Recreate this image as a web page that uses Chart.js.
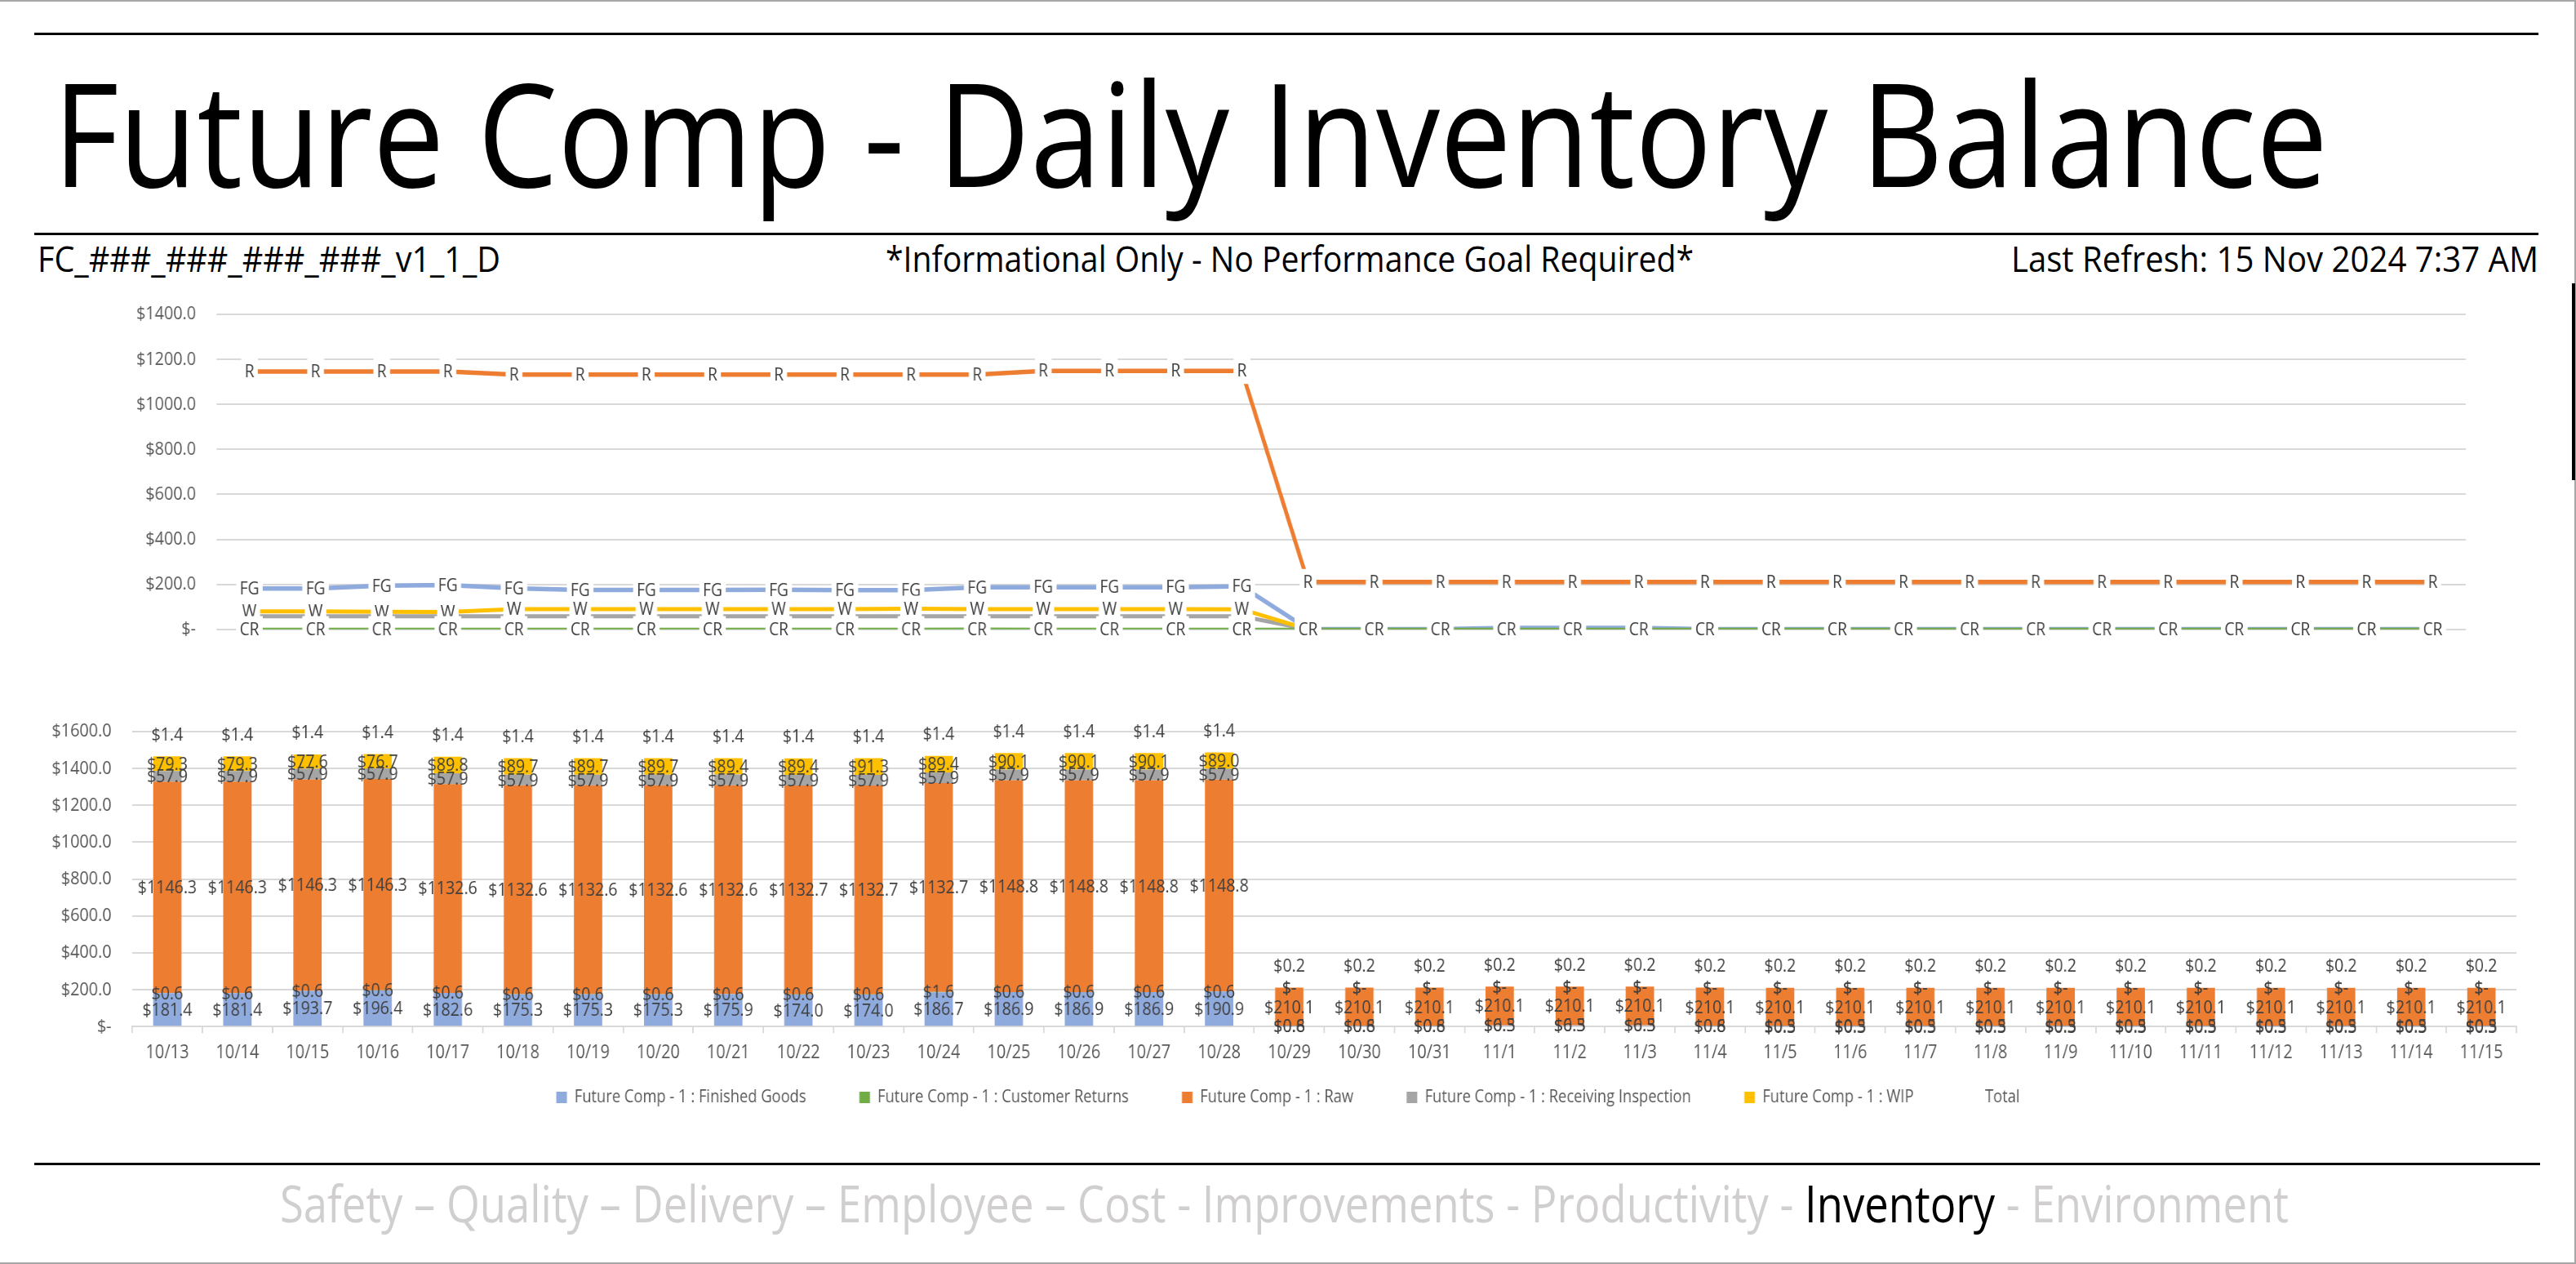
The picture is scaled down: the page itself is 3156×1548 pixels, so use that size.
<!DOCTYPE html>
<html>
<head>
<meta charset="utf-8">
<title>Future Comp - Daily Inventory Balance</title>
<script src="https://cdn.jsdelivr.net/npm/chart.js@4.4.1/dist/chart.umd.min.js"></script>
<style>
  html, body { margin: 0; padding: 0; background: #ffffff; width: 3156px; height: 1548px; overflow: hidden; }
  svg text { font-family: "Open Sans", sans-serif; white-space: pre; }
  .wrap { position: absolute; left: 0; transform-origin: 0 0; }
  canvas { display: block; }
</style>
</head>
<body>
<svg width="3156" height="1548" style="position:absolute;left:0;top:0">
  <rect x="0" y="0" width="3156" height="2" fill="#a6a6a6"/>
  <rect x="0" y="1546" width="3156" height="2" fill="#a6a6a6"/>
  <rect x="3154" y="0" width="2" height="1548" fill="#a6a6a6"/>
  <rect x="3151" y="347" width="4" height="241" fill="#000000"/>
  <rect x="42" y="40" width="3068" height="3" fill="#000000"/>
  <rect x="42" y="285" width="3068" height="3" fill="#000000"/>
  <rect x="42" y="1424" width="3070" height="3" fill="#000000"/>
  <text x="65" y="229" font-size="176" fill="#000" textLength="2787" lengthAdjust="spacingAndGlyphs">Future Comp - Daily Inventory Balance</text>
  <text x="46" y="333" font-size="44" fill="#000" textLength="567" lengthAdjust="spacingAndGlyphs">FC_###_###_###_###_v1_1_D</text>
  <text x="1085" y="333" font-size="44" fill="#000" textLength="990" lengthAdjust="spacingAndGlyphs">*Informational Only - No Performance Goal Required*</text>
  <text x="2464" y="333" font-size="44" fill="#000" textLength="646" lengthAdjust="spacingAndGlyphs">Last Refresh: 15 Nov 2024 7:37 AM</text>
  <text x="343" y="1497" font-size="62" textLength="2461" lengthAdjust="spacingAndGlyphs"><tspan fill="#d0cece">Safety – Quality – Delivery – Employee – Cost - Improvements - Productivity - </tspan><tspan fill="#000000">Inventory</tspan><tspan fill="#d0cece"> - Environment</tspan></text>
</svg>
<div class="wrap" id="topWrap"><canvas id="topChart"></canvas></div>
<div class="wrap" id="botWrap"><canvas id="botChart"></canvas></div>
<script>
// ---------------- DATA ----------------
const categories = ['10/13','10/14','10/15','10/16','10/17','10/18','10/19','10/20','10/21','10/22','10/23','10/24','10/25','10/26','10/27','10/28','10/29','10/30','10/31','11/1','11/2','11/3','11/4','11/5','11/6','11/7','11/8','11/9','11/10','11/11','11/12','11/13','11/14','11/15'];

const finishedGoods = [181.4,181.4,193.7,196.4,182.6,175.3,175.3,175.3,175.9,174.0,174.0,186.7,186.9,186.9,186.9,190.9,0.8,0.8,0.8,6.5,6.5,6.5,0.8,0.5,0.5,0.5,0.5,0.5,0.5,0.5,0.5,0.5,0.5,0.5];
const customerReturns = [0.6,0.6,0.6,0.6,0.6,0.6,0.6,0.6,0.6,0.6,0.6,1.6,0.6,0.6,0.6,0.6,0.6,0.6,0.6,0.3,0.3,0.3,0.6,0.3,0.3,0.3,0.3,0.3,0.3,0.3,0.3,0.3,0.3,0.3];
const raw = [1146.3,1146.3,1146.3,1146.3,1132.6,1132.6,1132.6,1132.6,1132.6,1132.7,1132.7,1132.7,1148.8,1148.8,1148.8,1148.8,210.1,210.1,210.1,210.1,210.1,210.1,210.1,210.1,210.1,210.1,210.1,210.1,210.1,210.1,210.1,210.1,210.1,210.1];
const receivingInspection = [57.9,57.9,57.9,57.9,57.9,57.9,57.9,57.9,57.9,57.9,57.9,57.9,57.9,57.9,57.9,57.9,0,0,0,0,0,0,0,0,0,0,0,0,0,0,0,0,0,0];
const wip = [79.3,79.3,77.6,76.7,89.8,89.7,89.7,89.7,89.4,89.4,91.3,89.4,90.1,90.1,90.1,89.0,0,0,0,0,0,0,0,0,0,0,0,0,0,0,0,0,0,0];
// Total labels as printed on the chart (in thousands of $)
const totalThousands = [1.4,1.4,1.4,1.4,1.4,1.4,1.4,1.4,1.4,1.4,1.4,1.4,1.4,1.4,1.4,1.4,0.2,0.2,0.2,0.2,0.2,0.2,0.2,0.2,0.2,0.2,0.2,0.2,0.2,0.2,0.2,0.2,0.2,0.2];

const seriesNames = ['Future Comp - 1 : Finished Goods','Future Comp - 1 : Customer Returns','Future Comp - 1 : Raw','Future Comp - 1 : Receiving Inspection','Future Comp - 1 : WIP','Total'];
const seriesCodes = ['FG','CR','R','','W'];
const seriesColors = ['#8FAADC','#70AD47','#ED7D31','#A5A5A5','#FFC000'];

const topTicks = { min: 0, max: 1400, step: 200 };
const bottomTicks = { min: 0, max: 1600, step: 200 };

// ---------------- LAYOUT ----------------
const PAGE_W = 3156;
const LOGICAL_W = 3628;
const SX = PAGE_W / LOGICAL_W;
const lx = v => v / SX;
const FONT = '"Open Sans", sans-serif';
const TEXT_DARK = '#404040';
const AXIS_TEXT = '#595959';
const GRID = '#d9d9d9';

function fmtMoney(v) { return v === 0 ? '$-' : '$' + Number(v).toFixed(1); }

function setupCanvas(wrapId, canvasId, top, height) {
  const wrap = document.getElementById(wrapId);
  wrap.style.top = top + 'px';
  wrap.style.width = LOGICAL_W + 'px';
  wrap.style.height = height + 'px';
  wrap.style.transform = 'scaleX(' + SX + ')';
  const c = document.getElementById(canvasId);
  c.width = LOGICAL_W; c.height = height;
  c.style.width = LOGICAL_W + 'px'; c.style.height = height + 'px';
  return c;
}

const topLabelPlugin = {
  id: 'topLabels',
  afterDatasetsDraw(chart) {
    const ctx = chart.ctx;
    ctx.save();
    ctx.font = '22px ' + FONT;
    ctx.textAlign = 'center';
    ctx.textBaseline = 'middle';
    const drawOrder = [2, 0, 3, 4, 1];
    drawOrder.forEach(di => {
      const ds = chart.data.datasets[di];
      if (!ds.code) return;
      const meta = chart.getDatasetMeta(di);
      const w = ctx.measureText(ds.code).width + 10;
      const h = 32;
      meta.data.forEach(pt => {
        ctx.fillStyle = '#ffffff';
        ctx.fillRect(pt.x - w / 2, pt.y - h / 2, w, h);
        ctx.fillStyle = TEXT_DARK;
        ctx.fillText(ds.code, pt.x, pt.y + 1);
      });
    });
    ctx.restore();
  }
};

const barLabelPlugin = {
  id: 'barLabels',
  afterDatasetsDraw(chart) {
    const ctx = chart.ctx;
    ctx.save();
    ctx.font = '22.5px ' + FONT;
    ctx.fillStyle = TEXT_DARK;
    ctx.textAlign = 'center';
    ctx.textBaseline = 'middle';
    chart.data.datasets.forEach((ds, di) => {
      const meta = chart.getDatasetMeta(di);
      if (ds.type === 'line') {
        meta.data.forEach((pt, i) => {
          ctx.fillText('$' + totalThousands[i].toFixed(1), pt.x, pt.y - 26);
        });
      } else {
        meta.data.forEach((bar, i) => {
          const p = bar.getProps(['x', 'y', 'base'], true);
          ctx.fillText(fmtMoney(ds.data[i]), p.x, (p.y + p.base) / 2 + 1);
        });
      }
    });
    ctx.restore();
  }
};

function buildTop() {
  const plotLeft = 265, plotRight = 3021, plotTop = 385, plotBottom = 770.7;
  const top = plotTop - 45;
  const height = Math.ceil(plotBottom + 45 - top);
  const padLeft = lx(100);
  const canvas = setupCanvas('topWrap', 'topChart', top, height);
  const seriesData = [finishedGoods, customerReturns, raw, receivingInspection, wip];
  const widths = [5.5, 3.5, 5.5, 5, 5];
  const orders = [1, 0, 4, 3, 2];
  const datasets = seriesData.map((d, i) => ({
    label: seriesNames[i],
    data: d,
    code: seriesCodes[i],
    borderColor: seriesColors[i],
    backgroundColor: seriesColors[i],
    borderWidth: widths[i],
    pointRadius: 0,
    tension: 0,
    fill: false,
    order: orders[i]
  }));
  new Chart(canvas, {
    type: 'line',
    data: { labels: categories, datasets },
    options: {
      responsive: false, animation: false, devicePixelRatio: 1,
      layout: { padding: { left: padLeft, right: LOGICAL_W - lx(plotRight), top: plotTop - top, bottom: top + height - plotBottom } },
      plugins: { legend: { display: false }, tooltip: { enabled: false } },
      scales: {
        x: { type: 'category', display: false, offset: true },
        y: {
          min: topTicks.min, max: topTicks.max,
          ticks: { stepSize: topTicks.step, padding: lx(25), color: AXIS_TEXT, font: { family: FONT, size: 22.7 }, callback: v => fmtMoney(v) },
          grid: { color: GRID, lineWidth: 2, drawTicks: false },
          border: { display: false },
          afterFit: s => { s.width = lx(plotLeft) - padLeft; }
        }
      }
    },
    plugins: [topLabelPlugin]
  });
}

function buildBottom() {
  const plotLeft = 162, plotRight = 3083, plotTop = 896, plotBottom = 1257.3;
  const legendCenterY = 1344;
  const top = plotTop - 45;
  const sidePad = lx(40);
  const legendFont = 21.1, legendPad = 75, legendBoxH = 14;
  const itemHeight = Math.max(legendFont, legendBoxH);
  const legendHeight = itemHeight + legendPad + 10;
  const xAxisHeight = 50;
  const bottomPad = 20;
  const height = Math.ceil(plotBottom - top + xAxisHeight + legendHeight + bottomPad);
  const padBottom = (top + height) - plotBottom - xAxisHeight - legendHeight;
  const canvas = setupCanvas('botWrap', 'botChart', top, height);

  const legendShiftPlugin = {
    id: 'legendShift',
    afterLayout(chart) {
      const lg = chart.legend;
      if (!lg) return;
      const newTop = (legendCenterY - top) - legendPad - itemHeight / 2;
      lg.top = newTop;
      lg.bottom = newTop + lg.height;
    }
  };

  const seriesData = [finishedGoods, customerReturns, raw, receivingInspection, wip];
  const datasets = seriesData.map((d, i) => ({
    type: 'bar',
    label: seriesNames[i],
    data: d,
    backgroundColor: seriesColors[i],
    borderColor: seriesColors[i],
    borderWidth: 0,
    stack: 'inv',
    barPercentage: 0.404,
    categoryPercentage: 1.0
  }));
  const totals = categories.map((c, i) => seriesData.reduce((s, d) => s + d[i], 0));
  datasets.push({
    type: 'line',
    label: seriesNames[5],
    data: totals,
    stack: 'total',
    showLine: false,
    pointRadius: 0,
    borderWidth: 0,
    borderColor: 'rgba(0,0,0,0)',
    backgroundColor: 'rgba(0,0,0,0)'
  });
  new Chart(canvas, {
    type: 'bar',
    data: { labels: categories, datasets },
    options: {
      responsive: false, animation: false, devicePixelRatio: 1,
      layout: { padding: { left: sidePad, right: sidePad, top: plotTop - top, bottom: padBottom } },
      plugins: {
        tooltip: { enabled: false },
        legend: {
          position: 'bottom',
          labels: { boxWidth: lx(13), boxHeight: legendBoxH, padding: legendPad, color: AXIS_TEXT, font: { family: FONT, size: legendFont } }
        }
      },
      scales: {
        x: {
          stacked: true,
          ticks: { autoSkip: false, maxRotation: 0, minRotation: 0, padding: 10, color: AXIS_TEXT, font: { family: FONT, size: 22.9 } },
          grid: { display: true, drawOnChartArea: false, drawTicks: true, tickLength: 8, color: GRID, lineWidth: 2, offset: true },
          border: { display: true, color: GRID, width: 2 },
          afterFit: s => { s.height = xAxisHeight; }
        },
        y: {
          stacked: true,
          min: bottomTicks.min, max: bottomTicks.max,
          ticks: { stepSize: bottomTicks.step, padding: lx(25.5), color: AXIS_TEXT, font: { family: FONT, size: 22.7 }, callback: v => fmtMoney(v) },
          grid: { color: GRID, lineWidth: 2, drawTicks: false },
          border: { display: false },
          afterFit: s => { s.width = lx(plotLeft) - sidePad; }
        },
        ySpacer: {
          position: 'right',
          display: true,
          ticks: { display: false },
          grid: { display: false, drawOnChartArea: false, drawTicks: false },
          border: { display: false },
          afterFit: s => { s.width = (LOGICAL_W - sidePad) - lx(plotRight); }
        }
      }
    },
    plugins: [barLabelPlugin, legendShiftPlugin]
  });
}

let started = false;
function go() {
  if (started) return;
  started = true;
  Chart.defaults.font.family = FONT;
  buildTop();
  buildBottom();
}
if (document.fonts && document.fonts.load) {
  Promise.all([document.fonts.load('22px "Open Sans"')]).then(go, go);
  setTimeout(go, 1500);
} else {
  go();
}
</script>
</body>
</html>
